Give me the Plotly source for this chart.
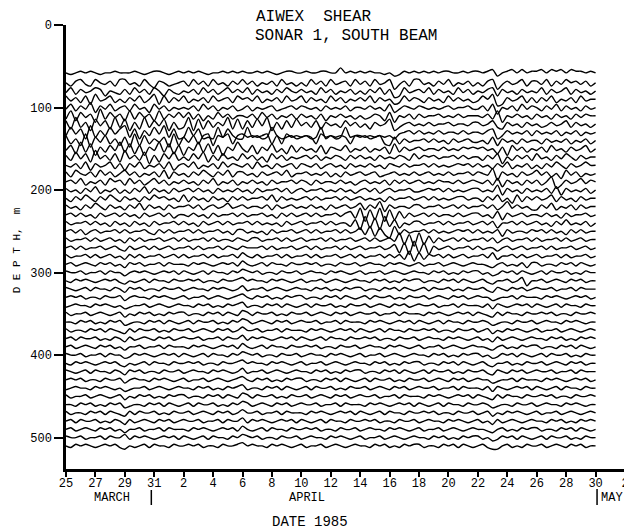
import plotly.graph_objects as go

# Day 0 = 25 March 1985; each trace is sampled 3 times per day up to 30 April (day 36)
x_tick_days = list(range(0, 39, 2))
x_tick_labels = ["25", "27", "29", "31", "2", "4", "6", "8", "10", "12", "14", "16",
                 "18", "20", "22", "24", "26", "28", "30", "2"]
y_tick_vals = [0, 100, 200, 300, 400, 500]

# Depth of each sonar bin (m)
depths = list(range(60, 520, 10))

# Trace displacement per sample: digit 5 = no displacement, each step = unit_m metres (down = larger)
unit_m = 2.0
end_day = 36

traces = [
    "454343454434 443454334543 434345443434 344343454334 434433441434 343445465343 434343344343 343264324243 324232423343 4",
    "574367356473 365736845765 473647365746 364756473657 573647365473 647365396473 365746375647 574396465374 463746354647 5",
    "637465348567 473647358467 564736475364 637465746356 465736475647 574637498365 463746573647 564384657465 637465374657 5",
    "364738265375 746375283746 375647365473 546375647365 374657364756 463746587364 574657364657 635298465374 746375647365 5",
    "637462846375 473658364756 564736475647 647565476546 456574656475 564657386456 456565465546 647395647364 574637465746 5",
    "728364917364 827364827463 637485736475 564736475647 465748564657 576458395647 465546564655 564729564657 465746574645 5",
    "381749263817 294817362948 719283746182 837261948372 647384657364 758465297546 564655465564 465378465746 576465374657 5",
    "726391847263 183947261839 827398928379 928798279879 879829798287 879878796546 465646556465 564397465647 465647564756 5",
    "274819362748 391827463918 362721823172 132321727132 323713232372 232327837465 546465746546 657384657465 574656475647 5",
    "638172947361 728394617283 946172839461 573846275837 465738456375 647564827465 465564656454 546584936475 647365746537 5",
    "472638164738 164729483627 573628473657 364758364756 546475645746 465746564573 645465546465 574639574647 365746357465 5",
    "564738465374 846375647385 463756473645 647365746547 456475465746 564657456465 546465654546 465746375647 574635746535 5",
    "473564736475 364756473846 574635746374 465746546375 546564757465 465476546564 654656465546 456294657465 364758364756 5",
    "546375647354 736475364756 465746375647 564657465546 457465564657 546564746465 465645564654 564738465746 475297465364 5",
    "465746375647 574637465746 546465746564 657465546475 465546564657 546475465546 654546465654 465628465746 564738465647 5",
    "574635746357 465746354657 374657465746 465546374656 546465546465 465657465546 546465654465 574637583746 465374657465 5",
    "465746357465 746374657465 546475465365 465564746546 564657465465 374628465564 465546546465 546475264657 746375647465 5",
    "546465746546 465746546475 564657465546 465546574646 546465546437 192819283746 546465564654 465738465465 564657465546 5",
    "465546465746 574657465546 465746546465 546465657465 465546465573 918291738564 465546465546 546485546465 465746365647 5",
    "546475465546 465546746465 546465546574 465657465546 546465546465 372837927465 546465654546 465648465564 546465746465 5",
    "465546465465 746465546546 465546465564 564465546465 465546465546 546465461829 183746546465 546475465546 465546465465 5",
    "546465546546 746546465465 546465546456 455546465546 546465546465 465546538291 829465465546 465575465465 546465546546 5",
    "465546465465 746465546546 465546465546 356465546465 546465546546 465546464728 374546465465 546375546465 465546465546 5",
    "546545645465 745465546455 564545654546 356546455645 545465564554 654556454565 465546545654 556754656474 465564546456 5",
    "455465546455 754545654546 456546455645 345465564554 654556454565 465546545654 556454656454 465764546456 546455465645 5",
    "564545654546 756546455645 545465564554 354556454565 465546545654 556454656454 465564546456 546755465385 546545645465 5",
    "456546455645 745465564554 654556454565 365546545654 556454656454 465564546456 546455465645 546745645465 455465546455 5",
    "545465564554 754556454565 465546545654 356454656454 465564546456 546455465645 546545645465 455765546455 564545654546 5",
    "654556454565 765546545654 556454656454 365564546456 546455465645 546545645465 455465546455 564745654546 456546455645 5",
    "465546545654 756454656454 465564546456 346455465645 546545645465 455465546455 564545654546 456746455645 545465564554 5",
    "556454656454 765564546456 546455465645 346545645465 455465546455 564545654546 456546455645 545765564554 654556454565 5",
    "465564546456 746455465645 546545645465 355465546455 564545654546 456546455645 545465564554 654756454565 465546545654 5",
    "546455465645 746545645465 455465546455 364545654546 456546455645 545465564554 654556454565 465746545654 556454656454 5",
    "546545645465 755465546455 564545654546 356546455645 545465564554 654556454565 465546545654 556754656454 465564546456 5",
    "455465546455 764545654546 456546455645 345465564554 654556454565 465546545654 556454656454 465764546456 546455465645 5",
    "564545654546 756546455645 545465564554 354556454565 465546545654 556454656454 465564546456 546755465645 546545645465 5",
    "456546455645 745465564554 654556454565 365546545654 556454656454 465564546456 546455465645 546745645465 455465546455 5",
    "545465564554 754556454565 465546545654 356454656454 465564546456 546455465645 546545645465 455765546455 564545654546 5",
    "654556454565 765546545654 556454656454 365564546456 546455465645 546545645465 455465546455 564745654546 456546455645 5",
    "465546545654 756454656454 465564546456 346455465645 546545645465 455465546455 564545654546 456746455645 545465564554 5",
    "556454656454 765564546456 546455465645 346545645465 455465546455 564545654546 456546455645 545765564554 654556454565 5",
    "465564546456 746455465645 546545645465 355465546455 564545654546 456546455645 545465564554 654756454565 465546545654 5",
    "546455465645 746545645465 455465546455 364545654546 456546455645 545465564554 654556454565 465746545654 556454656454 5",
    "546545645465 755465546455 564545654546 356546455645 545465564554 654556454565 465546545654 556754656454 465564546456 5",
    "455465546455 364545654546 456546455645 345465564554 654556454565 465546545654 556454656454 465764546456 546455465645 5",
    "564545654546 756546455645 545465564554 354556454565 465546545654 556454656454 465564546456 546775465645 546545645465 5",
]

fig = go.Figure()
for depth, code in zip(depths, traces):
    digits = code.replace(" ", "")
    n = len(digits)
    xs = [end_day * i / (n - 1) for i in range(n)]
    ys = [depth + (int(c) - 5) * unit_m for c in digits]
    fig.add_trace(go.Scatter(x=xs, y=ys, mode="lines",
                             line=dict(color="black", width=1.4, shape="spline", smoothing=0.7),
                             hoverinfo="skip", showlegend=False))

font_main = "Liberation Mono"
# The page body offsets the figure inside the window, so the figure is made smaller to fit
OFFX, OFFY = 6, 8
W, H = 626, 523
ml, mr, mt, mb = 58, 5, 17, 62
pw, ph = W - ml - mr, H - mt - mb
depth_max = 538


def py(screen_y):
    return (H - mb - (screen_y - OFFY)) / ph


def px(screen_x):
    return (screen_x - OFFX - ml) / pw


def txt(text, x, y, xref="paper", size=12, xanchor="center", angle=0):
    return dict(text=text, x=x, y=y, xref=xref, yref="paper",
                xanchor=xanchor, yanchor="middle", showarrow=False, textangle=angle,
                font=dict(family=font_main, size=size, color="black"))


annotations = [
    txt("AIWEX\u00a0\u00a0SHEAR", px(253), py(17), size=16, xanchor="left"),
    txt("SONAR 1, SOUTH BEAM", px(252), py(36), size=16, xanchor="left"),
    txt("MARCH", 3.1, py(498), xref="x", size=12),
    txt("APRIL", 16.4, py(498), xref="x", size=12),
    txt("MAY", 36.25, py(498), xref="x", size=12, xanchor="left"),
    txt("DATE 1985", 16.6, py(522), xref="x", size=14),
    txt("D E P T H,  m", px(15), py(250), size=11, angle=-90),
]

shapes = [
    dict(type="line", xref="x", yref="paper", x0=5.8, x1=5.8, y0=py(490), y1=py(505),
         line=dict(color="black", width=1.5)),
    dict(type="line", xref="x", yref="paper", x0=36.1, x1=36.1, y0=py(489), y1=py(505),
         line=dict(color="black", width=1.5)),
]

fig.update_layout(
    width=W, height=H,
    margin=dict(l=ml, r=mr, t=mt, b=mb),
    paper_bgcolor="white", plot_bgcolor="white",
    annotations=annotations, shapes=shapes,
    xaxis=dict(range=[0, 38], tickvals=x_tick_days, ticktext=x_tick_labels,
               showline=True, linewidth=2.5, linecolor="black",
               ticks="outside", ticklen=5, tickwidth=1.5, tickcolor="black",
               ticklabelstandoff=-4,
               showgrid=False, zeroline=False,
               tickfont=dict(family=font_main, size=12, color="black")),
    yaxis=dict(range=[depth_max, 0], tickvals=y_tick_vals,
               showline=True, linewidth=2.5, linecolor="black",
               ticks="outside", ticklen=9, tickwidth=1.5, tickcolor="black",
               showgrid=False, zeroline=False,
               tickfont=dict(family=font_main, size=12, color="black")),
)

fig.write_html("out.html")
